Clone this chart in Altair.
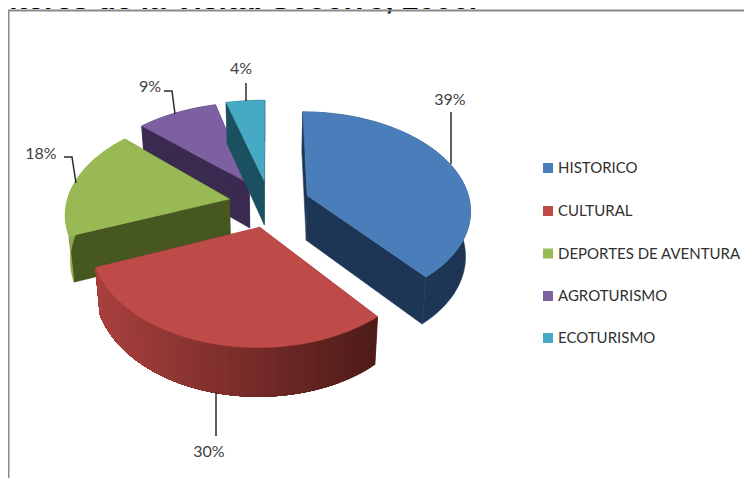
import math
import altair as alt

categories = ["HISTORICO", "CULTURAL", "DEPORTES DE AVENTURA", "AGROTURISMO", "ECOTURISMO"]
values = [39, 30, 18, 9, 4]
top_colors = ["#4a7ebb", "#be4b48", "#98b954", "#7d60a0", "#46aac5"]
wall_colors = ["#1e3656", "#8a3432", "#46571f", "#3a2a50", "#1b5060"]
rim_colors = ["#1e3656", None, "#8cab4d", "#3a2a50", "#1b5060"]
# small per-slice widening and horizontal nudge of the drawn slice
slice_widen = [1.0, 0.99, 1.0, 1.03, 1.11]
slice_nudge = [0.0, 0.0, -1.5, -1.0, -1.0]

# projection of the tilted pie
CX, CY, A, B, K, EXPLODE = 270.0, 203.5, 163.0, 97.0, 0.135, 0.245


def project(u, v, drop=0.0):
    den = 1 + K * v
    extra = (45 - 3 * v) if drop else 0
    shrink = 0.975 if drop else 1
    return [CX + shrink * A * u / den, CY - B * v / den + extra]


def mix(c1, c2, t):
    a = [int(c1[i:i + 2], 16) for i in (1, 3, 5)]
    b = [int(c2[i:i + 2], 16) for i in (1, 3, 5)]
    return "#%02x%02x%02x" % tuple(round(x + (y - x) * t) for x, y in zip(a, b))


slices = []
start = 0.0
for i, val in enumerate(values):
    t0 = start * 2 * math.pi / 100
    t1 = (start + val) * 2 * math.pi / 100
    mid = (t0 + t1) / 2
    ou, ov = EXPLODE * math.sin(mid), EXPLODE * math.cos(mid)
    n = max(8, val * 2)
    arc = [(ou + math.sin(t0 + (t1 - t0) * j / n), ov + math.cos(t0 + (t1 - t0) * j / n))
           for j in range(n + 1)]
    slices.append((i, ou, ov, arc))
    start += val

features = []
for idx in [3, 4, 2, 0, 1]:
    i, ou, ov, arc = slices[idx]
    apex_x = project(ou, ov)[0]

    def poly(points, fill):
        pts = [[apex_x + slice_widen[i] * (p[0] - apex_x) + slice_nudge[i], p[1]] for p in points]
        ring = pts + [pts[0]]
        return {"type": "Feature", "properties": {"fill": fill},
                "geometry": {"type": "Polygon", "coordinates": [ring]}}

    top = [project(ou, ov)] + [project(u, v) for u, v in arc]
    for (u, v) in (arc[0], arc[-1]):
        features.append(poly([project(ou, ov), project(u, v), project(u, v, 1), project(ou, ov, 1)],
                             wall_colors[i]))
    if rim_colors[i] is None:
        # shaded rim: each strip runs on to the end of the arc, so the next one paints over it
        for j in range(len(arc) - 1):
            rest = arc[j:]
            mx = project(*arc[j])[0]
            col = mix("#a8403d", "#4e1b19", min(1, max(0, (mx - 98) / 282)))
            features.append(poly([project(u, v) for u, v in rest] +
                                 [project(u, v, 1) for u, v in reversed(rest)], col))
    else:
        features.append(poly([project(u, v) for u, v in arc] +
                             [project(u, v, 1) for u, v in reversed(arc)], rim_colors[i]))
    features.append(poly(top, top_colors[i]))

W, H = 736, 470
xs = alt.Scale(domain=[8, 744], range=[0, W])
ys = alt.Scale(domain=[8, 478], range=[0, H])
X = lambda f: alt.X(f, scale=xs, axis=None)
Y = lambda f: alt.Y(f, scale=ys, axis=None)

pie = alt.Chart(alt.InlineData(values={"type": "FeatureCollection", "features": features},
                               format=alt.DataFormat(type="json", property="features"))).mark_geoshape(
    strokeWidth=0.5
).encode(
    fill=alt.Fill("properties.fill:N", scale=None),
    stroke=alt.Stroke("properties.fill:N", scale=None),
).project(type="identity", scale=1, translate=[-8, -8])

pct_labels = ["39%", "30%", "18%", "9%", "4%"]
label_x = [450, 209, 41, 150, 241]
label_y = [100, 452, 154, 87, 69]
labels = alt.Chart(alt.Data(values=[
    {"t": t, "x": x, "y": y} for t, x, y in zip(pct_labels, label_x, label_y)
])).mark_text(font="Lato", fontSize=16, color="#404040").encode(
    x=X("x:Q"), y=Y("y:Q"), text="t:N")

leader_paths = {
    "39": [(451, 112), (451, 164)],
    "30": [(216, 392), (216, 436)],
    "18": [(64, 157), (72, 157), (76, 183)],
    "9": [(164, 91), (172, 91), (175, 114)],
    "4": [(246, 83), (246, 101)],
}
leader_rows = [{"k": k, "o": n, "x": p[0], "y": p[1]}
               for k, pts in leader_paths.items() for n, p in enumerate(pts)]
leaders = alt.Chart(alt.Data(values=leader_rows)).mark_line(color="#2a2a2a", strokeWidth=1.5).encode(
    x=X("x:Q"), y=Y("y:Q"), detail="k:N", order="o:Q")

legend_y = [168, 211, 253.5, 296, 338]
legend_rows = [{"t": t, "c": c, "x": 548, "tx": 558, "y": y}
               for t, c, y in zip(categories, top_colors, legend_y)]
legend_sq = alt.Chart(alt.Data(values=legend_rows)).mark_square(size=100, opacity=1).encode(
    x=X("x:Q"), y=Y("y:Q"), fill=alt.Fill("c:N", scale=None))
legend_tx = alt.Chart(alt.Data(values=legend_rows)).mark_text(
    font="Lato", fontSize=15, align="left", color="#303030").encode(
    x=X("tx:Q"), y=Y("y:Q"), text="t:N")

frame_rows = [{"x": 8.5, "x2": 8.5, "y": 10, "y2": 478}, {"x": 8, "x2": 744, "y": 10.5, "y2": 10.5}]
frame = alt.Chart(alt.Data(values=frame_rows)).mark_rule(color="#8a8a8a", strokeWidth=2).encode(
    x=X("x:Q"), x2="x2:Q", y=Y("y:Q"), y2="y2:Q")

title_rows = [{"t": "nteres de la Visita. Socorro, 2006.", "x": -1, "y": 9}]
title = alt.Chart(alt.Data(values=title_rows)).mark_text(
    font="Liberation Sans", fontWeight="bold", fontSize=30, align="left", color="#000000",
    baseline="alphabetic").encode(x=X("x:Q"), y=Y("y:Q"), text="t:N")

chart = alt.layer(title, frame, pie, leaders, labels, legend_sq, legend_tx).properties(
    width=W, height=H, padding=0, background="#ffffff",
    autosize=alt.AutoSizeParams(type="none")
).configure_view(stroke=None)

chart.save("out.html", embed_options={"renderer": "svg", "actions": False})
